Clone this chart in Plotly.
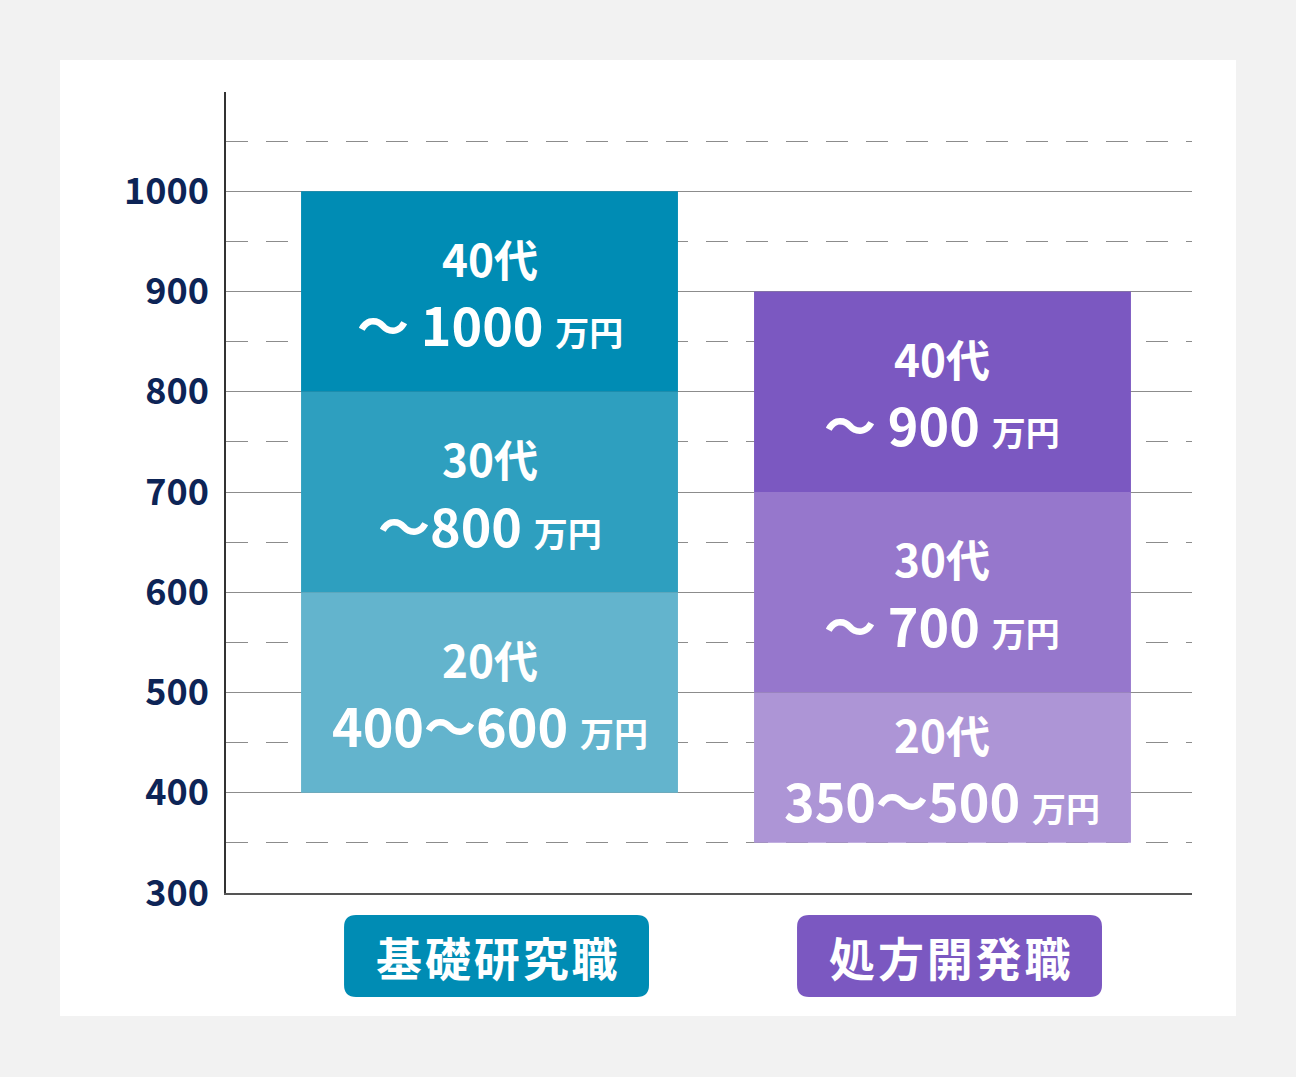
import plotly.graph_objects as go

# Data
categories = ["基礎研究職", "処方開発職"]
ages = ["20代", "30代", "40代"]
seg_base = [[400, 350], [600, 500], [800, 700]]     # bottom of each age band
seg_top = [[600, 500], [800, 700], [1000, 900]]     # top of each age band
range_text = [["400～600", "350～500"], ["～800", "～ 700"], ["～ 1000", "～ 900"]]
y_ticks = [300, 400, 500, 600, 700, 800, 900, 1000]

# Colors (per category, per age band)
colors = [
    ["#63b4cd", "#ad95d6"],  # 20s
    ["#2e9fbf", "#9677cc"],  # 30s
    ["#008cb4", "#7b58c1"],  # 40s
]
label_colors = ["#008cb4", "#7b58c1"]
font_family = "Noto Sans CJK JP"

fig = go.Figure()

xs = list(range(len(categories)))
for i, age in enumerate(ages):
    fig.add_trace(go.Bar(
        x=xs,
        y=[t - b for t, b in zip(seg_top[i], seg_base[i])],
        base=seg_base[i],
        width=0.832,
        marker=dict(color=colors[i], line=dict(width=0)),
        name=age,
        showlegend=False,
        hoverinfo="skip",
    ))

# Text inside the bars
for i, age in enumerate(ages):
    for j in xs:
        mid = (seg_base[i][j] + seg_top[i][j]) / 2
        fig.add_annotation(
            x=j, y=mid, xref="x", yref="y", yshift=34,
            text=f"<b>{age}</b>", showarrow=False,
            font=dict(family=font_family, size=44, color="white"),
        )
        fig.add_annotation(
            x=j, y=mid, xref="x", yref="y", yshift=-32,
            text=f"<b>{range_text[i][j]} <span style='font-size:34px'>万円</span></b>",
            showarrow=False,
            font=dict(family=font_family, size=52, color="white"),
        )

# White panel behind the chart
shapes = [dict(
    type="rect", xref="paper", yref="paper", layer="below",
    x0=-0.1718, x1=1.0455, y0=-0.1536, y1=1.04,
    fillcolor="white", line=dict(width=0),
)]

# Rounded label boxes under the bars
def rounded_box(cx, hw, y0, y1, rx, ry):
    x0, x1 = cx - hw, cx + hw
    return (
        f"M {x0 + rx},{y1} L {x1 - rx},{y1} Q {x1},{y1} {x1},{y1 - ry} "
        f"L {x1},{y0 + ry} Q {x1},{y0} {x1 - rx},{y0} "
        f"L {x0 + rx},{y0} Q {x0},{y0} {x0},{y0 + ry} "
        f"L {x0},{y1 - ry} Q {x0},{y1} {x0 + rx},{y1} Z"
    )

box_top, box_bottom = -0.0275, -0.1298
for j, cat in enumerate(categories):
    cx = j + 0.0155
    shapes.append(dict(
        type="path", xref="x", yref="paper",
        path=rounded_box(cx, 0.3366, box_bottom, box_top, 0.0265, 0.015),
        fillcolor=label_colors[j], line=dict(width=0),
    ))
    spaced = "\u200a".join(cat)  # a little letter spacing
    fig.add_annotation(
        x=cx, y=(box_top + box_bottom) / 2, xref="x", yref="paper",
        xanchor="center", yanchor="middle",
        text=f"<b>{spaced}</b>", showarrow=False,
        font=dict(family=font_family, size=46, color="white"),
    )

fig.update_layout(
    width=1296, height=1077,
    margin=dict(l=226, r=104, t=92, b=184),
    paper_bgcolor="#f2f2f2",
    plot_bgcolor="white",
    barmode="overlay",
    shapes=shapes,
    xaxis=dict(
        range=[-0.5817, 1.5508],
        showgrid=False, zeroline=False, showticklabels=False,
        showline=True, linecolor="#555555", linewidth=2,
        fixedrange=True,
    ),
    yaxis=dict(
        range=[300, 1099],
        tickvals=y_ticks,
        showgrid=True, gridcolor="#8c8c8c", gridwidth=1,
        zeroline=False,
        showline=True, linecolor="#333333", linewidth=1.5,
        ticks="", ticklabelstandoff=8,
        tickfont=dict(family=font_family, size=36, color="#0d2456", weight="bold"),
        minor=dict(dtick=50, tick0=300, showgrid=True, gridcolor="#8c8c8c",
                   gridwidth=1, griddash="22px,18px"),
    ),
)

# Drop the default page margin so the figure fills the window
fig.write_html(
    "out.html",
    config={"displayModeBar": False},
    post_script="document.body.style.margin='0';document.body.style.background='#f2f2f2';",
)
